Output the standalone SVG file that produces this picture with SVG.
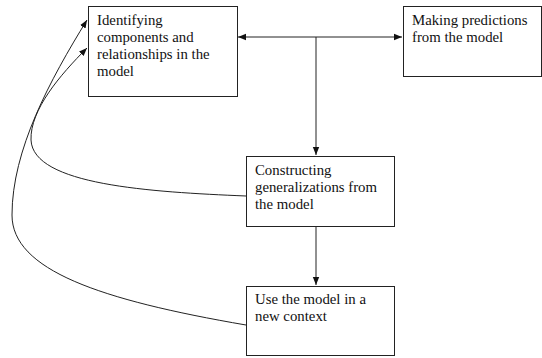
<svg xmlns="http://www.w3.org/2000/svg" width="542" height="358" viewBox="0 0 542 358">
<style>
.box{fill:#fff;stroke:#222;stroke-width:1}
.t{font-family:"Liberation Serif","Times New Roman",serif;font-size:14.8px;fill:#111}
.c{fill:none;stroke:#222;stroke-width:1}
</style>
<defs>
<marker id="ah" viewBox="0 0 10 10" refX="10" refY="5" markerWidth="8" markerHeight="8" markerUnits="userSpaceOnUse" orient="auto-start-reverse">
<path d="M0,1 L10,5 L0,9 Z" fill="#111"/>
</marker>
</defs>
<rect width="542" height="358" fill="#fff"/>
<g id="connectors">
<path class="c" d="M238,37 L402,37" marker-start="url(#ah)" marker-end="url(#ah)"/>
<path class="c" d="M316,37 L316,155" marker-end="url(#ah)"/>
<path class="c" d="M316,226 L316,285" marker-end="url(#ah)"/>
<path class="c" d="M246,196 C150,192 33,185 31,140 C30,110 60,75 87,48" marker-end="url(#ah)"/>
<path class="c" d="M246,325 C100,300 12,270 12,215 C12,150 50,80 87,20" marker-end="url(#ah)"/>
</g>
<g id="n1">
<rect class="box" x="88.5" y="6.5" width="149" height="90"/>
<text class="t" x="97" y="25">Identifying</text>
<text class="t" x="97" y="42">components and</text>
<text class="t" x="97" y="59">relationships in the</text>
<text class="t" x="97" y="76">model</text>
</g>
<g id="n2">
<rect class="box" x="403.5" y="6.5" width="138" height="70"/>
<text class="t" x="412" y="25">Making predictions</text>
<text class="t" x="412" y="42">from the model</text>
</g>
<g id="n3">
<rect class="box" x="246.5" y="156.5" width="148" height="70"/>
<text class="t" x="255" y="175">Constructing</text>
<text class="t" x="255" y="192">generalizations from</text>
<text class="t" x="255" y="209">the model</text>
</g>
<g id="n4">
<rect class="box" x="246.5" y="286.5" width="148" height="69"/>
<text class="t" x="255" y="304">Use the model in a</text>
<text class="t" x="255" y="321">new context</text>
</g>
</svg>
